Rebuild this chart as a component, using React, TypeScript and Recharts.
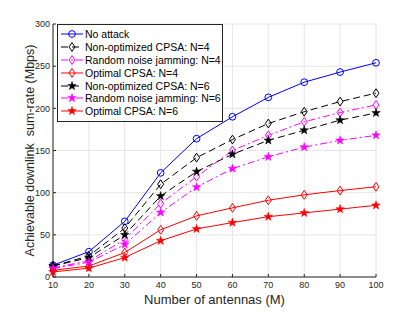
import { LineChart, Line, XAxis, YAxis, CartesianGrid, Legend, Label } from "recharts";

const antennas = [10, 20, 30, 40, 50, 60, 70, 80, 90, 100];
const noAttack = [14, 30, 66, 123.5, 164, 190, 213, 231, 243, 254];
const nonOptN4 = [13, 25, 58, 110, 141.5, 163, 182, 196, 208, 218];
const randomN4 = [11, 19, 44.5, 87, 119, 150, 168, 184, 195, 204];
const optimalN4 = [8, 13, 29, 56, 72.5, 82, 91, 97.5, 102.5, 107];
const nonOptN6 = [13, 23, 50, 96, 125, 145.5, 162, 174, 186, 194.5];
const randomN6 = [10, 17.5, 38.5, 76.5, 106.5, 128.5, 142.5, 154, 162, 168];
const optimalN6 = [6, 10.5, 23, 43, 57, 64.5, 71.5, 76, 80.5, 85];
const yTicks = [0, 50, 100, 150, 200, 250, 300];

type Mark = "circle" | "diamond" | "star";
type Series = { key: string; name: string; values: number[]; color: string; dash?: string; mark: Mark };

const series: Series[] = [
  { key: "a", name: "No attack", values: noAttack, color: "#0000ff", mark: "circle" },
  { key: "b", name: "Non-optimized CPSA: N=4", values: nonOptN4, color: "#000000", dash: "7 4", mark: "diamond" },
  { key: "c", name: "Random noise jamming: N=4", values: randomN4, color: "#ff00ff", dash: "7 3 2 3", mark: "diamond" },
  { key: "d", name: "Optimal CPSA: N=4", values: optimalN4, color: "#ff0000", mark: "diamond" },
  { key: "e", name: "Non-optimized CPSA: N=6", values: nonOptN6, color: "#000000", dash: "7 4", mark: "star" },
  { key: "f", name: "Random noise jamming: N=6", values: randomN6, color: "#ff00ff", dash: "7 3 2 3", mark: "star" },
  { key: "g", name: "Optimal CPSA: N=6", values: optimalN6, color: "#ff0000", mark: "star" },
];

const data = antennas.map((m, i) => {
  const row: Record<string, number> = { m };
  series.forEach((s) => (row[s.key] = s.values[i]));
  return row;
});

const font = "'Liberation Sans', Arial, sans-serif";
const axisColor = "#262626";

function starPath(cx: number, cy: number, R: number, r: number) {
  let d = "";
  for (let i = 0; i < 10; i++) {
    const rad = i % 2 === 0 ? R : r;
    const a = -Math.PI / 2 + (i * Math.PI) / 5;
    d += (i === 0 ? "M" : "L") + (cx + rad * Math.cos(a)).toFixed(2) + "," + (cy + rad * Math.sin(a)).toFixed(2);
  }
  return d + "Z";
}

function Marker({ cx, cy, color, mark }: { cx: number; cy: number; color: string; mark: Mark }) {
  if (mark === "circle") return <circle cx={cx} cy={cy} r={3.4} fill="none" stroke={color} strokeWidth={1} />;
  if (mark === "diamond")
    return <path d={`M${cx},${cy - 4.4}L${cx + 3},${cy}L${cx},${cy + 4.4}L${cx - 3},${cy}Z`} fill="none" stroke={color} strokeWidth={1} />;
  return <path d={starPath(cx, cy, 4.5, 1.8)} fill={color} stroke={color} strokeWidth={0.5} />;
}

function LegendBox() {
  return (
    <div style={{ border: "1px solid " + axisColor, background: "#fff", width: 166, padding: "3px 0 3px 0", boxSizing: "border-box" }}>
      {series.map((s) => (
        <div key={s.key} style={{ display: "flex", alignItems: "center", height: 12.8 }}>
          <svg width={24} height={12} style={{ marginLeft: 2, marginRight: 1, flexShrink: 0 }}>
            <line x1={1} y1={6} x2={23} y2={6} stroke={s.color} strokeWidth={1} strokeDasharray={s.dash} />
            <Marker cx={12} cy={6} color={s.color} mark={s.mark} />
          </svg>
          <span style={{ fontSize: 10.5, color: "#000", whiteSpace: "nowrap", lineHeight: "12px", fontFamily: font }}>{s.name}</span>
        </div>
      ))}
    </div>
  );
}

function YTitle(props: any) {
  const vb = props.viewBox || { y: 24, height: 253 };
  const cy = vb.y + vb.height / 2;
  return (
    <text x={0} y={0} transform={`translate(34, ${cy}) rotate(-90)`} textAnchor="middle" fontSize={12.5} fill={axisColor} fontFamily={font} style={{ whiteSpace: "pre" }}>
      Achievable downlink  sum-rate (Mbps)
    </text>
  );
}

export default function App() {
  return (
    <div style={{ position: "absolute", left: 0, top: 0, width: 415, height: 312, background: "#fff", fontFamily: font }}>
      <LineChart width={415} height={312} data={data} margin={{ top: 24, right: 39, bottom: 0, left: 0 }}>
        <CartesianGrid stroke="#e6e6e6" strokeWidth={1} />
        <XAxis
          dataKey="m"
          type="number"
          domain={[10, 100]}
          ticks={antennas}
          height={35}
          tickSize={-3}
          tickLine={{ stroke: axisColor }}
          axisLine={{ stroke: axisColor }}
          tick={{ fontSize: 9, fill: axisColor, fontFamily: font }}
          tickMargin={8}
        >
          <Label value="Number of antennas (M)" position="insideBottom" offset={8} style={{ fontSize: 13, fill: axisColor, fontFamily: font }} />
        </XAxis>
        <XAxis xAxisId="top" orientation="top" dataKey="m" type="number" domain={[10, 100]} ticks={antennas} height={0} tick={false} tickSize={-3} tickLine={{ stroke: axisColor }} axisLine={{ stroke: axisColor }} />
        <YAxis
          type="number"
          domain={[0, 300]}
          ticks={yTicks}
          width={53}
          tickSize={-3}
          tickLine={{ stroke: axisColor }}
          axisLine={{ stroke: axisColor }}
          tick={{ fontSize: 9, fill: axisColor, fontFamily: font }}
          tickMargin={6}
        >
          <Label content={YTitle} />
        </YAxis>
        <YAxis yAxisId="right" orientation="right" domain={[0, 300]} ticks={yTicks} width={0} tick={false} tickSize={-3} tickLine={{ stroke: axisColor }} axisLine={{ stroke: axisColor }} />
        {series.map((s) => (
          <Line
            key={s.key}
            dataKey={s.key}
            name={s.name}
            stroke={s.color}
            strokeWidth={1}
            strokeDasharray={s.dash}
            isAnimationActive={false}
            dot={(p: any) => <Marker key={`${s.key}-${p.index}`} cx={p.cx} cy={p.cy} color={s.color} mark={s.mark} />}
          />
        ))}
        <Legend layout="vertical" align="center" verticalAlign="middle" wrapperStyle={{ left: 57, top: 24, width: "auto", zIndex: 5 }} content={() => <LegendBox />} />
      </LineChart>
    </div>
  );
}
